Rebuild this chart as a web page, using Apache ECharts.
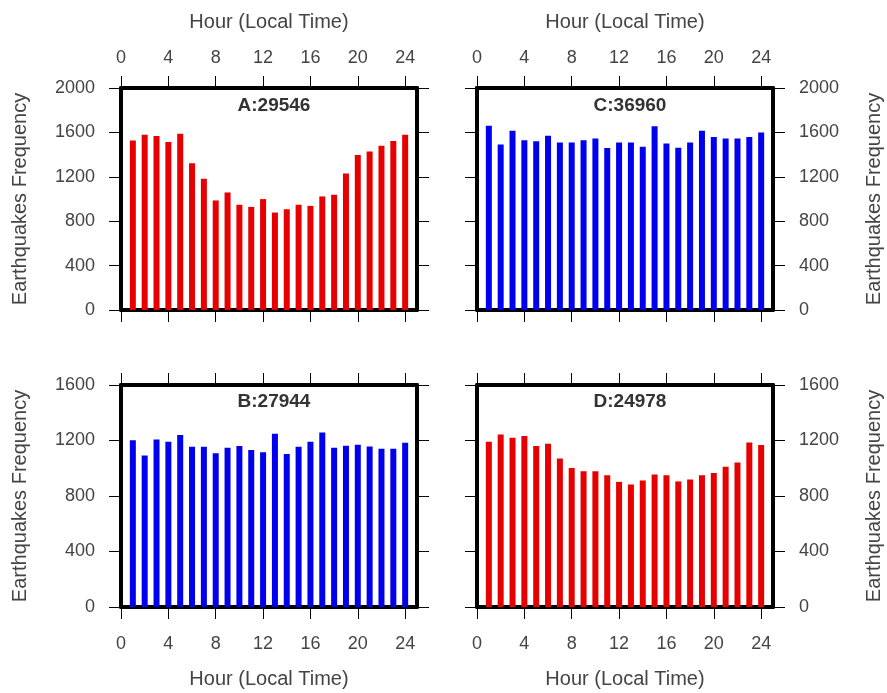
<!DOCTYPE html>
<html>
<head>
<meta charset="utf-8">
<script src="https://cdn.jsdelivr.net/npm/echarts@6/dist/echarts.min.js"></script>
<style>html,body{margin:0;padding:0;background:#fff;}#c{width:887px;height:693px;}</style>
</head>
<body>
<div id="c"></div>
<script>
var hours = [1,2,3,4,5,6,7,8,9,10,11,12,13,14,15,16,17,18,19,20,21,22,23,24];
var xTicks = [0,4,8,12,16,20,24];
var panelNames = ['A','B','C','D'];
var totals = [29546, 27944, 36960, 24978];
var valuesA = [1528,1579,1567,1513,1588,1323,1182,987,1059,948,929,999,878,908,948,938,1023,1038,1230,1396,1429,1480,1522,1579];
var valuesB = [1201,1092,1208,1191,1239,1155,1155,1109,1148,1160,1131,1116,1249,1102,1155,1191,1258,1148,1162,1169,1157,1140,1140,1184];
var valuesC = [1660,1490,1615,1530,1520,1570,1510,1510,1530,1545,1460,1510,1510,1470,1655,1500,1462,1510,1615,1558,1545,1545,1558,1600];
var valuesD = [1191,1244,1220,1232,1160,1177,1071,1001,979,979,950,902,883,912,955,950,905,919,950,965,1010,1042,1186,1167];
var yMaxTop = 2000, yMaxBottom = 1600, yStep = 400;
var xLabel = 'Hour (Local Time)';
var yLabel = 'Earthquakes Frequency';

var FONT = 'Liberation Sans';
var TXT = '#444';
var panels = [
  {name:'A', vals: valuesA, color:'#e60000', left:121, top:88, ymax:yMaxTop, side:'left', xlab:'top', tOff:3},
  {name:'B', vals: valuesB, color:'#0000ee', left:121, top:385, ymax:yMaxBottom, side:'left', xlab:'bottom', tOff:2},
  {name:'C', vals: valuesC, color:'#0000ee', left:477, top:88, ymax:yMaxTop, side:'right', xlab:'top', tOff:3},
  {name:'D', vals: valuesD, color:'#e60000', left:477, top:385, ymax:yMaxBottom, side:'right', xlab:'bottom', tOff:2}
];
var W = 296, H = 222;
var grid = [], xAxis = [], yAxis = [], series = [], title = [];
panels.forEach(function(p, i){
  grid.push({left:p.left, top:p.top, width:W, height:H, containLabel:false});
  ['bottom','top'].forEach(function(pos){
    var showLab = (pos === p.xlab);
    xAxis.push({
      type:'value', gridIndex:i, position:pos, min:0, max:25,
      name: showLab ? xLabel : '', nameLocation:'middle', nameGap: pos==='top'?56:62,
      nameTextStyle:{fontFamily:FONT, fontSize:20, color:TXT},
      axisLine:{show:true, onZero:false, lineStyle:{color:'#000', width:4}},
      axisTick:{show:true, length:12, customValues:xTicks, lineStyle:{color:'#000', width:1}},
      axisLabel:{show:showLab, customValues:xTicks, margin: pos==='top'?21:28, fontFamily:FONT, fontSize:18, color:TXT},
      splitLine:{show:false}
    });
  });
  ['left','right'].forEach(function(pos){
    var showLab = (pos === p.side);
    yAxis.push({
      type:'value', gridIndex:i, position:pos, min:0, max:p.ymax, interval:yStep,
      name: showLab ? yLabel : '', nameLocation:'middle', nameGap: 91,
      nameTextStyle:{fontFamily:FONT, fontSize:20, color:TXT},
      axisLine:{show:true, onZero:false, lineStyle:{color:'#000', width:4}},
      axisTick:{show:true, length:12, lineStyle:{color:'#000', width:1}},
      axisLabel:{show:showLab, margin:26, fontFamily:FONT, fontSize:18, color:TXT,
        formatter:function(v){ return String(v); }},
      splitLine:{show:false}
    });
  });
  series.push({
    type:'bar', xAxisIndex:i*2, yAxisIndex:i*2, barWidth:6,
    itemStyle:{color:p.color},
    data: hours.map(function(h, k){ return [h, p.vals[k]]; }),
    silent:true, animation:false
  });
  var idx = panelNames.indexOf(p.name);
  title.push({
    text: p.name + ':' + totals[idx], left: p.left + W/2, top: p.top + p.tOff,
    textAlign:'center',
    textStyle:{fontFamily:FONT, fontSize:19, fontWeight:'bold', color:'#333'}
  });
});
var chart = echarts.init(document.getElementById('c'), null, {renderer:'canvas'});
chart.setOption({animation:false, backgroundColor:'#fff', title:title, grid:grid, xAxis:xAxis, yAxis:yAxis, series:series});
</script>
</body>
</html>
